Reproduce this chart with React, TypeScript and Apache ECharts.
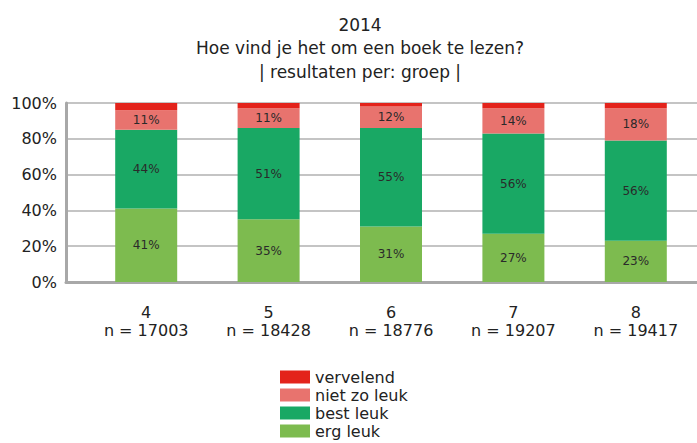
import React, { useEffect, useRef } from 'react';
import * as echarts from 'echarts';

const groups = ['4', '5', '6', '7', '8'];
const sampleSizes = [17003, 18428, 18776, 19207, 19417];
const ergLeuk = [41, 35, 31, 27, 23];
const bestLeuk = [44, 51, 55, 56, 56];
const nietZoLeuk = [11, 11, 12, 14, 18];
const vervelend = [4, 3, 2, 3, 3];
const legendOrder = ['vervelend', 'niet zo leuk', 'best leuk', 'erg leuk'];

const FONT = '"DejaVu Sans", "Liberation Sans", sans-serif';

export default function App() {
  const ref = useRef<HTMLDivElement>(null);
  useEffect(() => {
    document.body.style.margin = '0';
    const chart = echarts.init(ref.current!, null, { renderer: 'svg' });
    const categories = groups.map((g, i) => `${g}\nn = ${sampleSizes[i]}`);
    const label = {
      show: true,
      position: 'inside',
      formatter: '{c}%',
      color: '#2a2a2a',
      fontSize: 12,
      fontFamily: FONT,
    };
    chart.setOption({
      animation: false,
      textStyle: { fontFamily: FONT },
      title: {
        text: '2014\nHoe vind je het om een boek te lezen?\n| resultaten per: groep |',
        left: 355,
        textAlign: 'center',
        top: 8,
        textStyle: { fontSize: 17, fontWeight: 'normal', color: '#222', lineHeight: 23.5, fontFamily: FONT },
      },
      legend: {
        data: legendOrder,
        orient: 'vertical',
        left: 275,
        top: 364,
        height: 100,
        padding: [5, 5, 0, 5],
        itemWidth: 30,
        itemHeight: 13,
        itemGap: 2,
        icon: 'rect',
        textStyle: { fontSize: 16, color: '#222', lineHeight: 16, fontFamily: FONT },
      },
      grid: [
        { left: 85, width: 614, top: 103, height: 179 },
        { left: 66, right: 0, top: 103, height: 179 },
      ],
      xAxis: [
        {
          type: 'category',
          gridIndex: 0,
          data: categories,
          axisLine: { show: false },
          axisTick: { show: false },
          axisLabel: { fontSize: 16, lineHeight: 18, color: '#222', margin: 21, fontFamily: FONT },
        },
        {
          type: 'value',
          gridIndex: 1,
          min: 0,
          max: 1,
          axisLine: { show: true, lineStyle: { color: '#a8a8a8', width: 3 } },
          axisTick: { show: false },
          axisLabel: { show: false },
          splitLine: { show: false },
        },
      ],
      yAxis: [
        { type: 'value', gridIndex: 0, min: 0, max: 100, show: false },
        {
          type: 'value',
          gridIndex: 1,
          min: 0,
          max: 100,
          interval: 20,
          axisLine: { show: true, lineStyle: { color: '#a8a8a8', width: 3 } },
          axisTick: { show: false },
          axisLabel: { formatter: '{value}%', fontSize: 16, color: '#222', margin: 9, fontFamily: FONT },
          splitLine: { show: true, lineStyle: { color: '#b0b0b0', width: 1.5 } },
        },
      ],
      series: [
        { name: 'erg leuk', type: 'bar', stack: 'all', data: ergLeuk, barWidth: 62, itemStyle: { color: '#7DBB4F' }, label },
        { name: 'best leuk', type: 'bar', stack: 'all', data: bestLeuk, barWidth: 62, itemStyle: { color: '#19A864' }, label },
        { name: 'niet zo leuk', type: 'bar', stack: 'all', data: nietZoLeuk, barWidth: 62, itemStyle: { color: '#E8736E' }, label },
        { name: 'vervelend', type: 'bar', stack: 'all', data: vervelend, barWidth: 62, itemStyle: { color: '#E3231B' }, label: { show: false } },
      ],
    });
    return () => chart.dispose();
  }, []);
  return <div ref={ref} style={{ width: 697, height: 443 }} />;
}
